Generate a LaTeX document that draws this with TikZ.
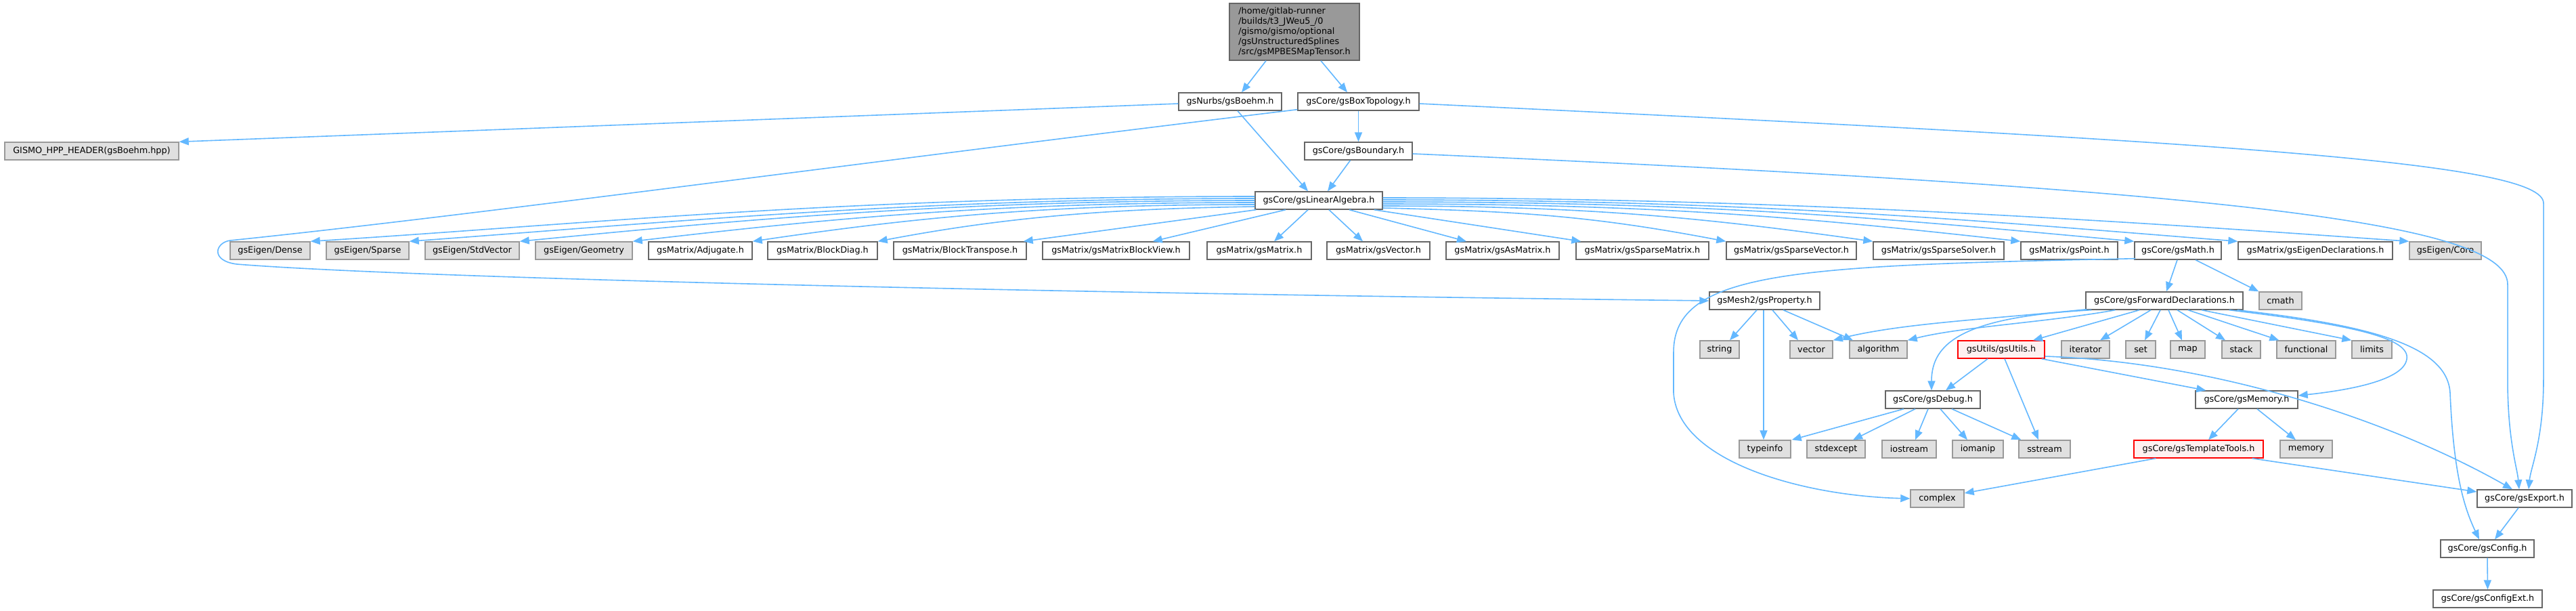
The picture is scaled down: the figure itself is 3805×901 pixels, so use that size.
\documentclass[tikz,border=0pt]{standalone}
\usepackage{fontspec}
\setmainfont{DejaVu Sans}
\usetikzlibrary{arrows.meta,calc}
\definecolor{edgec}{HTML}{63B8FF}
\definecolor{bord}{HTML}{666666}
\definecolor{gbord}{HTML}{999999}
\definecolor{gfill}{HTML}{E0E0E0}
\definecolor{topfill}{HTML}{999999}
\definecolor{rfill}{HTML}{FFF0F0}
\definecolor{rbord}{HTML}{FF0000}
\newcommand\mybox[6]{\node[#1, minimum width={(#4-#3)*0.5pt}, minimum height=13pt] (#2) at ({(#3+#4)/2},{#5+13}) {#6};}
\begin{document}
\begin{tikzpicture}[x=0.5pt,y=-0.5pt,
  box/.style={draw=bord, fill=white, line width=0.7pt, inner sep=0pt, font=\fontsize{6.4}{7.4}\selectfont, text=black},
  gbox/.style={box, draw=gbord, fill=gfill},
  rbox/.style={box, draw=rbord, fill=rfill},
  tbox/.style={box, fill=topfill, align=left},
  dep/.style={draw=edgec, line width=0.8pt, -{Triangle[length=7pt,width=5.5pt]}}]
\fill[white] (0,0) rectangle (3805,901);
\useasboundingbox (0,0) rectangle (3805,901);

% nodes
\node[tbox, minimum width=96pt, minimum height=42pt] (top) at (1912,47)
  {/home/gitlab-runner\\/builds/t3\_JWeu5\_/0\\/gismo/gismo/optional\\/gsUnstructuredSplines\\/src/gsMPBESMapTensor.h};
\mybox{box}{boehm}{1741}{1893}{137}{gsNurbs/gsBoehm.h}
\mybox{box}{boxtop}{1917}{2096}{137}{gsCore/gsBoxTopology.h}
\mybox{gbox}{gismohpp}{7}{264}{210}{GISMO\_HPP\_HEADER(gsBoehm.hpp)}
\mybox{box}{boundary}{1927}{2086}{210}{gsCore/gsBoundary.h}
\mybox{box}{linalg}{1854}{2042}{283}{gsCore/gsLinearAlgebra.h}
% row 4
\mybox{gbox}{dense}{340}{458}{357}{gsEigen/Dense}
\mybox{gbox}{sparse}{482}{604}{357}{gsEigen/Sparse}
\mybox{gbox}{stdvector}{628}{767}{357}{gsEigen/StdVector}
\mybox{gbox}{geometry}{791}{934}{357}{gsEigen/Geometry}
\mybox{box}{adjugate}{958}{1111}{357}{gsMatrix/Adjugate.h}
\mybox{box}{blockdiag}{1134}{1296}{357}{gsMatrix/BlockDiag.h}
\mybox{box}{blocktranspose}{1320}{1516}{357}{gsMatrix/BlockTranspose.h}
\mybox{box}{blockview}{1540}{1757}{357}{gsMatrix/gsMatrixBlockView.h}
\mybox{box}{gsmatrix}{1783}{1937}{357}{gsMatrix/gsMatrix.h}
\mybox{box}{gsvector}{1960}{2112}{357}{gsMatrix/gsVector.h}
\mybox{box}{asmatrix}{2136}{2303}{357}{gsMatrix/gsAsMatrix.h}
\mybox{box}{sparsematrix}{2328}{2524}{357}{gsMatrix/gsSparseMatrix.h}
\mybox{box}{sparsevector}{2550}{2742}{357}{gsMatrix/gsSparseVector.h}
\mybox{box}{sparsesolver}{2767}{2960}{357}{gsMatrix/gsSparseSolver.h}
\mybox{box}{gspoint}{2985}{3128}{357}{gsMatrix/gsPoint.h}
\mybox{box}{gsmath}{3153}{3281}{357}{gsCore/gsMath.h}
\mybox{box}{eigendecl}{3306}{3534}{357}{gsMatrix/gsEigenDeclarations.h}
\mybox{gbox}{eigencore}{3559}{3665}{357}{gsEigen/Core}
% row 5
\mybox{box}{property}{2525}{2688}{431}{gsMesh2/gsProperty.h}
\mybox{box}{forward}{3081}{3313}{431}{gsCore/gsForwardDeclarations.h}
\mybox{gbox}{cmath}{3337}{3400}{431}{cmath}
% row 6
\mybox{gbox}{string}{2511}{2569}{503}{string}
\mybox{gbox}{vector}{2644}{2707}{503}{vector}
\mybox{gbox}{algorithm}{2732}{2817}{503}{algorithm}
\mybox{rbox}{gsutils}{2892}{3020}{503}{gsUtils/gsUtils.h}
\mybox{gbox}{iterator}{3045}{3116}{503}{iterator}
\mybox{gbox}{set}{3140}{3184}{503}{set}
\mybox{gbox}{map}{3206}{3257}{503}{map}
\mybox{gbox}{stack}{3282}{3339}{503}{stack}
\mybox{gbox}{functional}{3363}{3450}{503}{functional}
\mybox{gbox}{limits}{3474}{3533}{503}{limits}
% row 7
\mybox{box}{debug}{2785}{2925}{577}{gsCore/gsDebug.h}
\mybox{box}{memh}{3243}{3394}{577}{gsCore/gsMemory.h}
% row 8
\mybox{gbox}{typeinfo}{2569}{2645}{650}{typeinfo}
\mybox{gbox}{stdexcept}{2669}{2755}{650}{stdexcept}
\mybox{gbox}{iostream}{2780}{2860}{650}{iostream}
\mybox{gbox}{iomanip}{2884}{2959}{650}{iomanip}
\mybox{gbox}{sstream}{2982}{3058}{650}{sstream}
\mybox{rbox}{templatetools}{3152}{3343}{650}{gsCore/gsTemplateTools.h}
\mybox{gbox}{memory}{3368}{3445}{650}{memory}
% rows 9-11
\mybox{gbox}{complex}{2822}{2901}{723}{complex}
\mybox{box}{export}{3659}{3799}{723}{gsCore/gsExport.h}
\mybox{box}{config}{3605}{3743}{797}{gsCore/gsConfig.h}
\mybox{box}{configext}{3594}{3755}{871}{gsCore/gsConfigExt.h}

% edges: top
\draw[dep] ($(top.south)+(-42,0)$) -- ($(boehm.north)+(17,0)$);
\draw[dep] ($(top.south)+(39,0)$) -- ($(boxtop.north)+(-16.5,0)$);
% boehm
\draw[dep] ($(boehm.west)+(0,3)$) -- (gismohpp.north east);
\draw[dep] ($(boehm.south)+(11,0)$) -- ($(linalg.north)+(-16,0)$);
% boxtop
\draw[dep] (boxtop.south) -- (boundary.north);
\draw[dep] ($(boxtop.south west)+(0,-2)$) .. controls (1300,236) and (700,318) .. (340,355)
  .. controls (318,358) and (310,385) .. (350,390)
  .. controls (600,410) and (1500,432) .. (property.west);
\draw[dep] ($(boxtop.east)+(0,3)$) .. controls (3300,210) and (3757,240) .. (3757,300)
  -- (3757,560) .. controls (3757,650) and (3738,690) .. ($(export.north)+(6,0)$);
% boundary
\draw[dep] ($(boundary.south)+(-12,0)$) -- ($(linalg.north)+(13,0)$);
\draw[dep] ($(boundary.east)+(0,4)$) .. controls (3300,280) and (3704,330) .. (3704,420)
  -- (3704,560) .. controls (3704,650) and (3718,690) .. ($(export.north)+(-8,0)$);
% linalg left
\draw[dep] ($(linalg.west)+(0,-6)$) .. controls +(-600,0) and +(400,-25) .. (dense.north east);
\draw[dep] ($(linalg.west)+(0,-3)$) .. controls +(-500,0) and +(380,-28) .. (sparse.north east);
\draw[dep] (linalg.west) .. controls +(-450,0) and +(330,-32) .. (stdvector.north east);
\draw[dep] ($(linalg.west)+(0,3)$) .. controls +(-380,0) and +(300,-35) .. (geometry.north east);
\draw[dep] ($(linalg.west)+(0,6)$) .. controls +(-300,0) and +(250,-37) .. (adjugate.north east);
\draw[dep] ($(linalg.west)+(0,9)$) .. controls +(-200,3) and +(200,-38) .. (blockdiag.north east);
% linalg bottom
\draw[dep] ($(linalg.south west)+(2,0)$) -- ($(blocktranspose.north east)+(-5,0)$);
\draw[dep] ($(linalg.south)+(-49,0)$) -- ($(blockview.north east)+(-55,0)$);
\draw[dep] ($(linalg.south)+(-16,0)$) -- ($(gsmatrix.north)+(22,0)$);
\draw[dep] ($(linalg.south)+(15,0)$) -- ($(gsvector.north)+(-23,0)$);
\draw[dep] ($(linalg.south)+(45,0)$) -- ($(asmatrix.north)+(-53.5,0)$);
\draw[dep] ($(linalg.south east)+(-13,0)$) -- ($(sparsematrix.north west)+(8,0)$);
% linalg right
\draw[dep] ($(linalg.east)+(0,11)$) .. controls +(200,5) and +(-200,-38) .. (sparsevector.north west);
\draw[dep] ($(linalg.east)+(0,8)$) .. controls +(300,0) and +(-250,-35) .. (sparsesolver.north west);
\draw[dep] ($(linalg.east)+(0,5)$) .. controls +(420,0) and +(-300,-33) .. (gspoint.north west);
\draw[dep] ($(linalg.east)+(0,2)$) .. controls +(500,0) and +(-350,-32) .. (gsmath.north west);
\draw[dep] ($(linalg.east)+(0,-1)$) .. controls +(550,0) and +(-380,-30) .. (eigendecl.north west);
\draw[dep] ($(linalg.east)+(0,-4)$) .. controls +(600,0) and +(-400,-28) .. (eigencore.north west);
% gsmath
\draw[dep] ($(gsmath.south)+(-1,0)$) -- ($(forward.north)+(3,0)$);
\draw[dep] ($(gsmath.south)+(26,0)$) -- (cmath.north west);
\draw[dep] ($(gsmath.south west)+(2,-2)$) .. controls (2650,392) and (2472,400) .. (2472,520)
  -- (2472,580) .. controls (2478,680) and (2660,732) .. (complex.west);
% property
\draw[dep] ($(property.south)+(-11.5,0)$) -- ($(string.north)+(15,0)$);
\draw[dep] ($(property.south)+(11.5,0)$) -- ($(vector.north)+(-19.5,0)$);
\draw[dep] ($(property.south)+(27.5,0)$) -- ($(algorithm.north)+(-37.5,0)$);
\draw[dep] ($(property.south)+(-1.5,0)$) -- ($(typeinfo.north)+(-2,0)$);
% forward
\draw[dep] ($(forward.south west)+(2,-1)$) .. controls +(-150,15) and +(100,-25) .. (vector.north east);
\draw[dep] ($(forward.south west)+(44,0)$) .. controls +(-100,18) and +(80,-20) .. (algorithm.north east);
\draw[dep] ($(forward.south west)+(9,0)$) .. controls +(-190,10) and +(0,-70) .. ($(debug.north)+(-2,0)$);
\draw[dep] ($(forward.south)+(-37,0)$) -- ($(gsutils.north)+(47,0)$);
\draw[dep] ($(forward.south)+(-20,0)$) -- ($(iterator.north)+(21.5,0)$);
\draw[dep] ($(forward.south)+(-6,0)$) -- ($(set.north)+(6,0)$);
\draw[dep] ($(forward.south)+(6,0)$) -- ($(map.north)+(-8.5,0)$);
\draw[dep] ($(forward.south)+(19,0)$) -- ($(stack.north)+(-23.5,0)$);
\draw[dep] ($(forward.south)+(35,0)$) -- ($(functional.north west)+(4,0)$);
\draw[dep] ($(forward.south)+(55,0)$) -- (limits.north west);
\draw[dep] ($(forward.south east)+(-21,0)$) .. controls (3480,480) and (3560,500) .. (3555,530)
  .. controls (3550,565) and (3450,578) .. ($(memh.east)+(0,-6)$);
\draw[dep] ($(forward.south east)+(-9,0)$) .. controls (3500,480) and (3615,510) .. (3619,580)
  .. controls (3624,700) and (3640,750) .. ($(config.north)+(-12,0)$);
% gsutils
\draw[dep] ($(gsutils.south)+(-20,0)$) -- ($(debug.north)+(19,0)$);
\draw[dep] ($(gsutils.south)+(5,0)$) -- ($(sstream.north)+(-9,0)$);
\draw[dep] ($(gsutils.south east)+(-5,0)$) -- ($(memh.north west)+(16,0)$);
\draw[dep] ($(gsutils.east)+(0,10)$) .. controls (3280,535) and (3540,625) .. ($(export.north)+(-18,0)$);
% debug
\draw[dep] ($(debug.south)+(-43,0)$) -- ($(typeinfo.north east)+(1,0)$);
\draw[dep] ($(debug.south)+(-26,0)$) -- ($(stdexcept.north)+(25,0)$);
\draw[dep] ($(debug.south)+(-7,0)$) -- ($(iostream.north)+(9,0)$);
\draw[dep] ($(debug.south)+(11,0)$) -- ($(iomanip.north)+(-15.5,0)$);
\draw[dep] ($(debug.south)+(28,0)$) -- ($(sstream.north west)+(4,0)$);
% memory
\draw[dep] ($(memh.south)+(-12.5,0)$) -- ($(templatetools.north)+(14.5,0)$);
\draw[dep] ($(memh.south)+(15.5,0)$) -- ($(memory.north)+(-15.5,0)$);
% template tools
\draw[dep] ($(templatetools.south west)+(33,0)$) -- ($(complex.east)+(0,-8)$);
\draw[dep] ($(templatetools.south east)+(-17,0)$) -- ($(export.west)+(0,-10)$);
% export, config
\draw[dep] ($(export.south)+(-9,0)$) -- ($(config.north)+(11,0)$);
\draw[dep] (config.south) -- (configext.north);
\end{tikzpicture}
\end{document}
